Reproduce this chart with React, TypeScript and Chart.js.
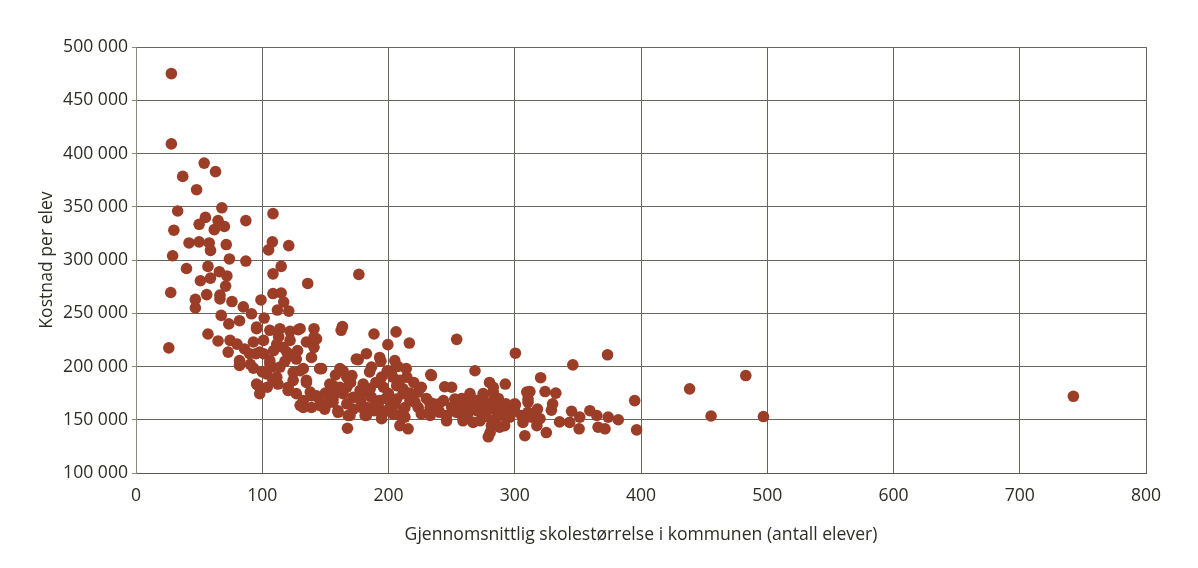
import { useEffect, useRef } from "react";
import Chart from "chart.js/auto";

// Gjennomsnittlig skolestørrelse (antall elever) per kommune
const skolestorrelse = [
  28, 28, 54, 37, 63, 48, 33, 68, 108.5, 55, 50, 65, 70, 62, 87, 30, 42, 50, 58, 59,
  71.5, 108, 105, 121, 29, 74, 87, 40, 57, 66, 72, 51, 59, 71, 115, 108.5, 136, 27.5, 56, 47,
  47, 66.5, 66.5, 76, 85, 91.5, 99, 108.5, 115, 117, 112, 121, 67.5, 57, 65, 26, 73.5, 82, 101.5, 95.5,
  106, 122, 128.5, 141, 141, 135, 141, 139, 74.5, 80, 73, 86, 95, 82, 82, 93, 101, 109, 116.5, 122,
  127, 106, 107.5, 103.5, 111.5, 124.5, 132.5, 147, 124.5, 135, 97, 104, 112.5, 98, 120.5, 127, 138, 143, 130, 139,
  149.5, 153.5, 176.5, 163.5, 162.5, 188.5, 206, 199.5, 216.5, 254, 268.5, 182.5, 176, 193, 186.5, 207.5, 164, 171, 194.5, 202.5,
  214.5, 233.5, 156, 167, 180, 196, 206.5, 226, 244.5, 250, 153.5, 164, 182.5, 200, 211.5, 223.5, 132.5, 144.5, 156, 172,
  186.5, 193, 217, 235.5, 243.5, 254, 264.5, 270, 151, 160, 168, 178.5, 182.5, 189, 194.5, 202.5, 209, 213, 215.5, 223.5,
  233, 246, 254, 262, 267, 267, 167.5, 300.5, 373.5, 346, 320.5, 280, 292.5, 283, 264.5, 275, 312, 324, 332.5, 310.5,
  300.5, 395, 262, 272.5, 285.5, 291, 329, 345, 359.5, 365, 374, 382, 351.5, 335.5, 343.5, 351, 317.5, 325, 366, 371.5,
  396.5, 308, 279, 281.5, 288, 259, 296, 305.5, 313.5, 320, 310.5, 283, 289.5, 438.5, 455.5, 483, 497, 742.5, 174.5, 194,
  205, 167, 203.5, 161.5, 177.5, 185.5, 211.5, 206.5, 221, 182.5, 193, 201, 211.5, 239.5, 169.5, 181.5, 203.5, 213, 209, 226,
  233, 234, 309.5, 232.5, 252.5, 275, 283, 300, 240.5, 256.5, 270, 279, 288, 296, 246, 259, 272.5, 285.5, 292, 280.5,
  306.5, 310.5, 95.5, 114, 130, 93, 101, 111.5, 122, 143, 98, 119.5, 90.5, 106, 114, 130, 145.5, 161.5, 95.5, 108.5,
  120.5, 135, 161.5, 139, 157.5, 132.5, 145.5, 156, 167, 160,
  185, 190, 198, 205, 190, 178, 172, 196, 217, 220, 214, 199, 209, 230, 240, 250, 258, 275, 287, 293,
  263, 277, 300, 318, 330, 118, 128, 113, 100, 90, 150, 170, 158,
];

// Kostnad per elev (kroner)
const kostnad = [
  475000, 409000, 391000, 378500, 383000, 366000, 346000, 349000, 343500, 340000, 333500, 337000, 331500, 328500, 337000, 328000, 316000, 317000, 316000, 309000,
  314500, 317000, 309500, 313500, 304000, 301000, 299000, 292000, 294000, 289000, 285000, 280500, 283000, 275500, 294000, 287000, 278000, 269500, 267500, 263000,
  255000, 267000, 263500, 261000, 256000, 249500, 262500, 268500, 269000, 260500, 253000, 252000, 248000, 230500, 224000, 217500, 240000, 243000, 245500, 235500,
  234000, 233000, 234500, 235500, 227500, 223000, 218000, 208500, 224500, 221000, 213500, 216500, 212000, 205500, 201000, 198500, 212000, 215000, 218000, 210500,
  207000, 205500, 199500, 193000, 190000, 194500, 198000, 198000, 187000, 187000, 182000, 180500, 183500, 174500, 177500, 174500, 176000, 172500, 163500, 161500,
  160000, 183500, 286500, 237500, 234000, 230500, 232500, 220500, 222000, 225500, 196000, 212000, 206500, 208500, 199500, 200000, 196000, 191500, 190000, 196000,
  190000, 192500, 182000, 180500, 183500, 180500, 182000, 180500, 181000, 180500, 176000, 174500, 176000, 174500, 174500, 176000, 168000, 171000, 169500, 171000,
  171000, 168000, 168000, 165000, 168000, 168000, 172500, 168000, 165000, 157000, 154000, 161500, 154000, 158500, 151000, 160000, 154000, 161500, 141500, 161500,
  161500, 154000, 157000, 152500, 161500, 147500, 142000, 212500, 211000, 201500, 189500, 185000, 183500, 180500, 174500, 174500, 176500, 176500, 175000, 169500,
  164000, 168000, 165000, 161500, 160000, 154000, 159000, 158000, 158500, 154000, 152500, 150000, 152500, 148000, 147500, 141500, 144500, 138000, 143000, 141500,
  140500, 135000, 134000, 144500, 143000, 152500, 152500, 154000, 152500, 151000, 157000, 168000, 155500, 179000, 153500, 191500, 153000, 172000, 207000, 205000,
  205500, 190000, 190000, 179000, 177500, 179000, 179000, 169500, 166500, 161500, 160000, 161500, 158500, 158500, 154000, 154000, 155500, 152500, 144500, 155500,
  154000, 191500, 176000, 166500, 169500, 172500, 176000, 165000, 157000, 160000, 158500, 160000, 161500, 157000, 149000, 149000, 149000, 152500, 144500, 138000,
  147500, 166500, 237000, 235500, 235500, 223000, 224500, 221000, 224500, 226000, 213500, 213500, 202000, 202500, 199500, 196000, 198000, 198000, 183500, 187000,
  180500, 185000, 180500, 172500, 174500, 161500, 163500, 166500, 165000, 158500,
  195000, 185000, 170000, 165000, 165000, 168000, 160000, 157000, 175000, 185000, 198000, 196000, 187000, 170000, 165000, 162000, 170000, 166000, 170000, 165000,
  156000, 153000, 158000, 160000, 165000, 205000, 215000, 228000, 195000, 212000, 175000, 185000, 192000,
];

const xTicks = [0, 100, 200, 300, 400, 500, 600, 700, 800];
const yTicks = [100000, 150000, 200000, 250000, 300000, 350000, 400000, 450000, 500000];

const tekstFarge = "#2e2d24";
const font = { family: "'Open Sans', sans-serif", size: 17.6 };

export default function App() {
  const canvasRef = useRef<HTMLCanvasElement | null>(null);
  const chartRef = useRef<Chart | null>(null);

  useEffect(() => {
    if (!canvasRef.current) return;
    if (chartRef.current) chartRef.current.destroy();

    const punkter = skolestorrelse.map((x, i) => ({ x, y: kostnad[i] }));

    chartRef.current = new Chart(canvasRef.current, {
      type: "scatter",
      data: {
        datasets: [
          {
            data: punkter,
            backgroundColor: "#9c3d27",
            borderWidth: 0,
            pointRadius: 5.8,
            pointHoverRadius: 5.8,
          },
        ],
      },
      options: {
        animation: false,
        responsive: true,
        maintainAspectRatio: false,
        events: [],
        layout: { padding: { top: 47, right: 52, left: 0, bottom: 0 } },
        plugins: { legend: { display: false }, tooltip: { enabled: false } },
        scales: {
          x: {
            type: "linear",
            min: 0,
            max: 800,
            afterBuildTicks: (scale: any) => {
              scale.ticks = xTicks.map((v) => ({ value: v }));
            },
            afterFit: (scale: any) => {
              scale.height = 95;
            },
            grid: { color: "#67665a", lineWidth: 1, drawTicks: false },
            border: { color: "#5b5a48", width: 1 },
            ticks: { color: tekstFarge, font, padding: 12, maxRotation: 0 },
            title: {
              display: true,
              text: "Gjennomsnittlig skolestørrelse i kommunen (antall elever)",
              color: tekstFarge,
              font,
              padding: { top: 0, bottom: 22 },
            },
          },
          y: {
            type: "linear",
            min: 100000,
            max: 500000,
            afterBuildTicks: (scale: any) => {
              scale.ticks = yTicks.map((v) => ({ value: v }));
            },
            afterFit: (scale: any) => {
              scale.width = 136;
            },
            grid: { color: "#67665a", lineWidth: 1, drawTicks: true, tickLength: 4, tickColor: "#8d8a7c" },
            border: { color: "#8d8a7c", width: 1 },
            ticks: {
              color: tekstFarge,
              font,
              padding: 4,
              callback: (v: any) => String(v).replace(/\B(?=(\d{3})+(?!\d))/g, " "),
            },
            title: {
              display: true,
              text: "Kostnad per elev",
              color: tekstFarge,
              font,
              padding: { top: 36, bottom: 0 },
            },
          },
        },
      },
    });

    return () => {
      if (chartRef.current) {
        chartRef.current.destroy();
        chartRef.current = null;
      }
    };
  }, []);

  return (
    <div style={{ position: "absolute", left: 0, top: 0, width: 1198, height: 568, background: "#fff" }}>
      <canvas ref={canvasRef}></canvas>
    </div>
  );
}
